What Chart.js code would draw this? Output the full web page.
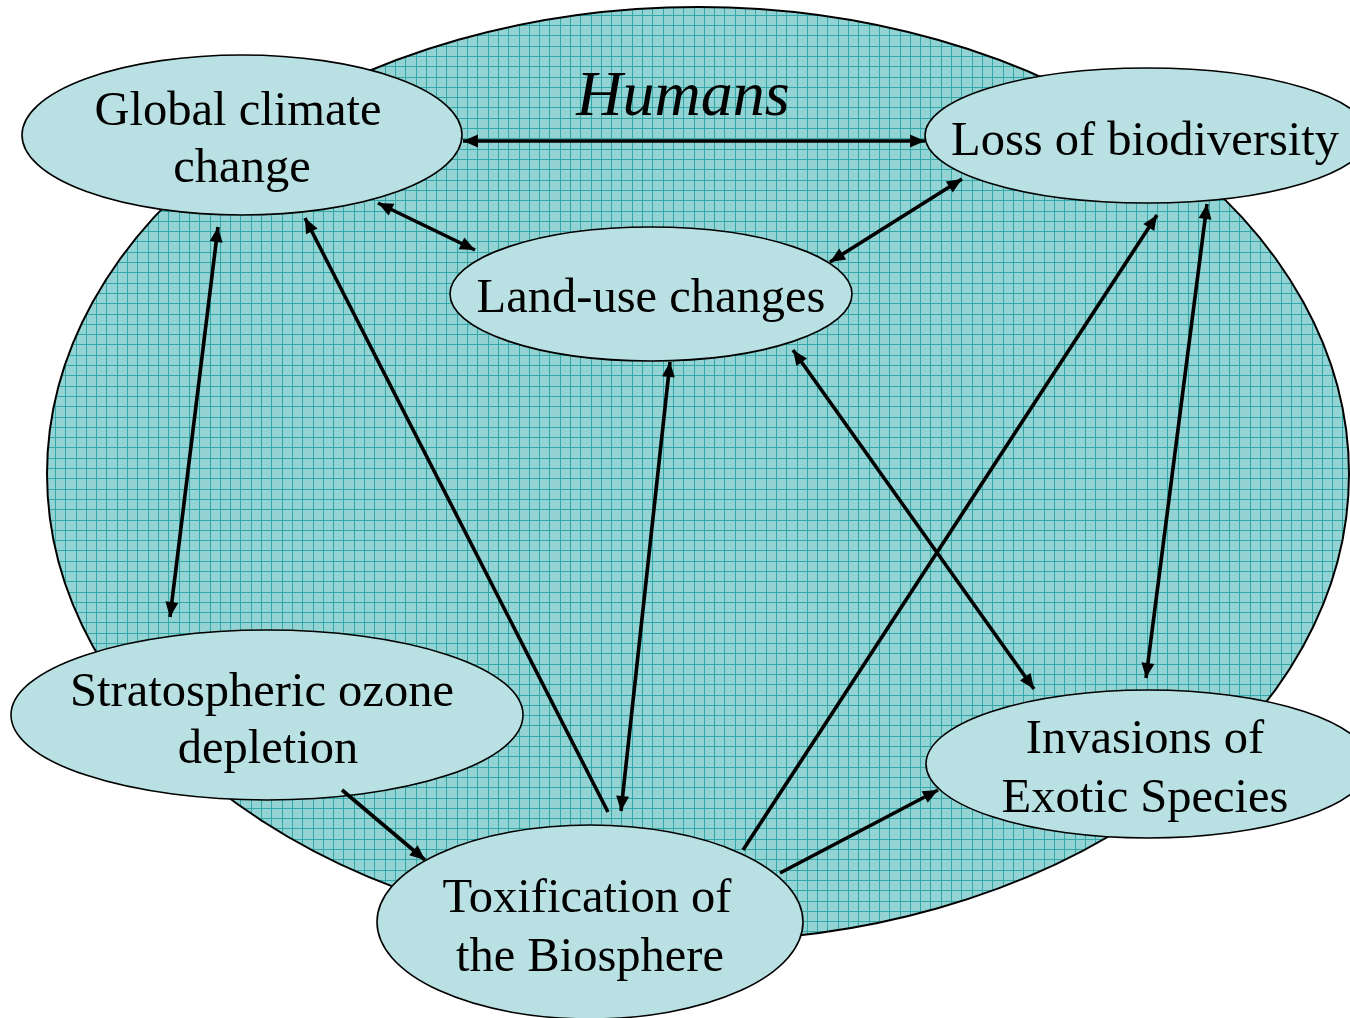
<!DOCTYPE html>
<html>
<head>
<meta charset="utf-8">
<script src="https://cdn.jsdelivr.net/npm/chart.js@4.4.1/dist/chart.umd.min.js"></script>
<style>
html,body{margin:0;padding:0;background:#fff;}
#wrap{width:1350px;height:1018px;position:relative;}
</style>
</head>
<body>
<div id="wrap"><canvas id="c"></canvas></div>
<script>
// ---- Diagram data (in axis units; x 0..1350, y 0..1018 downward) ----
const titleText = "Humans";
const titleX = 683;
const titleY = 115;

const bigCX = 698, bigCY = 474, bigRX = 651, bigRY = 467;

const nodeNames = ["Global climate change", "Loss of biodiversity", "Land-use changes",
                   "Stratospheric ozone depletion", "Invasions of Exotic Species", "Toxification of the Biosphere"];
const nodeLines = [["Global climate", "change"], ["Loss of biodiversity"], ["Land-use changes"],
                   ["Stratospheric ozone", "depletion"], ["Invasions of", "Exotic Species"], ["Toxification of", "the Biosphere"]];
const nodeCX = [242, 1147, 651, 267, 1148, 590];
const nodeCY = [135, 135.5, 294, 715, 764, 922];
const nodeRX = [220, 222, 201, 256, 222, 213];
const nodeRY = [80, 67.5, 67, 85, 74, 97];
const lineX = [[238, 242], [1145], [651], [262, 268], [1145, 1145], [587, 590]];
const lineY = [[125, 182], [155], [312], [706, 763], [753, 812], [912, 971]];

// arrows: start point, end point, heads at start / end
const arrowX1 = [463, 378, 962, 218, 608, 670, 793, 743, 1207, 342, 780];
const arrowY1 = [141, 203, 179, 227, 812, 362, 350, 850, 204, 790, 873];
const arrowX2 = [925, 475, 830, 170, 305, 621, 1034, 1157, 1146, 425, 938];
const arrowY2 = [141, 250, 262, 617, 218, 811, 689, 215, 678, 860, 790];
const headStart = [1, 1, 1, 1, 0, 1, 1, 0, 1, 0, 0];
const headEnd   = [1, 1, 1, 1, 1, 1, 1, 1, 1, 1, 1];

const datasets = arrowX1.map((x, i) => ({
  type: 'line',
  data: [{x: x, y: arrowY1[i]}, {x: arrowX2[i], y: arrowY2[i]}],
  borderColor: '#000',
  borderWidth: 3.6,
  pointRadius: 0,
  fill: false,
  tension: 0,
  headStart: headStart[i],
  headEnd: headEnd[i]
}));

function ell(ctx, xs, ys, cx, cy, rx, ry) {
  const px = xs.getPixelForValue(cx), py = ys.getPixelForValue(cy);
  const prx = Math.abs(xs.getPixelForValue(cx + rx) - px);
  const pry = Math.abs(ys.getPixelForValue(cy + ry) - py);
  ctx.beginPath();
  ctx.ellipse(px, py, prx, pry, 0, 0, Math.PI * 2);
  return {px, py, prx, pry};
}

const diagramPlugin = {
  id: 'diagram',
  beforeDatasetsDraw(chart) {
    const ctx = chart.ctx, xs = chart.scales.x, ys = chart.scales.y;
    ctx.save();
    // big "Humans" ellipse with grid texture
    ell(ctx, xs, ys, bigCX, bigCY, bigRX, bigRY);
    ctx.fillStyle = '#93d3d3';
    ctx.fill();
    ctx.save();
    ctx.clip();
    ctx.strokeStyle = '#34a8a8';
    ctx.lineWidth = 1;
    const step = 10.3;
    for (let x = 3.5; x < 1350; x += step) {
      const xx = Math.round(x) + 0.5;
      ctx.beginPath(); ctx.moveTo(xx, 0); ctx.lineTo(xx, 1018); ctx.stroke();
    }
    for (let y = 4.5; y < 1018; y += step) {
      const yy = Math.round(y) + 0.5;
      ctx.beginPath(); ctx.moveTo(0, yy); ctx.lineTo(1350, yy); ctx.stroke();
    }
    ctx.restore();
    ell(ctx, xs, ys, bigCX, bigCY, bigRX, bigRY);
    ctx.strokeStyle = '#000';
    ctx.lineWidth = 2;
    ctx.stroke();
    // node ellipses
    for (let i = 0; i < nodeCX.length; i++) {
      ell(ctx, xs, ys, nodeCX[i], nodeCY[i], nodeRX[i], nodeRY[i]);
      ctx.fillStyle = '#b9e0e3';
      ctx.fill();
      ctx.strokeStyle = '#000';
      ctx.lineWidth = 1.6;
      ctx.stroke();
    }
    ctx.restore();
  },
  afterDatasetsDraw(chart) {
    const ctx = chart.ctx, xs = chart.scales.x, ys = chart.scales.y;
    ctx.save();
    // arrowheads from the line elements
    chart.data.datasets.forEach((ds, i) => {
      const pts = chart.getDatasetMeta(i).data;
      if (pts.length < 2) return;
      const a = pts[0], b = pts[1];
      const head = (tip, from) => {
        const ang = Math.atan2(tip.y - from.y, tip.x - from.x);
        const L = 15, W = 6.5;
        ctx.beginPath();
        ctx.moveTo(tip.x, tip.y);
        ctx.lineTo(tip.x - L * Math.cos(ang) + W * Math.sin(ang), tip.y - L * Math.sin(ang) - W * Math.cos(ang));
        ctx.lineTo(tip.x - L * Math.cos(ang) - W * Math.sin(ang), tip.y - L * Math.sin(ang) + W * Math.cos(ang));
        ctx.closePath();
        ctx.fillStyle = '#000';
        ctx.fill();
      };
      if (ds.headEnd) head(b, a);
      if (ds.headStart) head(a, b);
    });
    // labels
    ctx.fillStyle = '#000';
    ctx.textAlign = 'center';
    ctx.textBaseline = 'alphabetic';
    ctx.font = '48.5px "Liberation Serif", "Times New Roman", serif';
    nodeLines.forEach((lines, i) => {
      lines.forEach((t, j) => {
        ctx.fillText(t, xs.getPixelForValue(lineX[i][j]), ys.getPixelForValue(lineY[i][j]));
      });
    });
    ctx.font = 'italic 64px "Liberation Serif", "Times New Roman", serif';
    ctx.fillText(titleText, xs.getPixelForValue(titleX), ys.getPixelForValue(titleY));
    ctx.restore();
  }
};

new Chart(document.getElementById('c'), {
  type: 'scatter',
  data: { datasets },
  options: {
    responsive: true,
    maintainAspectRatio: false,
    animation: false,
    layout: { padding: 0 },
    plugins: { legend: { display: false }, tooltip: { enabled: false }, title: { display: false } },
    scales: {
      x: { type: 'linear', min: 0, max: 1350, display: false },
      y: { type: 'linear', min: 0, max: 1018, reverse: true, display: false }
    },
    elements: { line: { borderCapStyle: 'butt' } }
  },
  plugins: [diagramPlugin]
});
</script>
</body>
</html>
